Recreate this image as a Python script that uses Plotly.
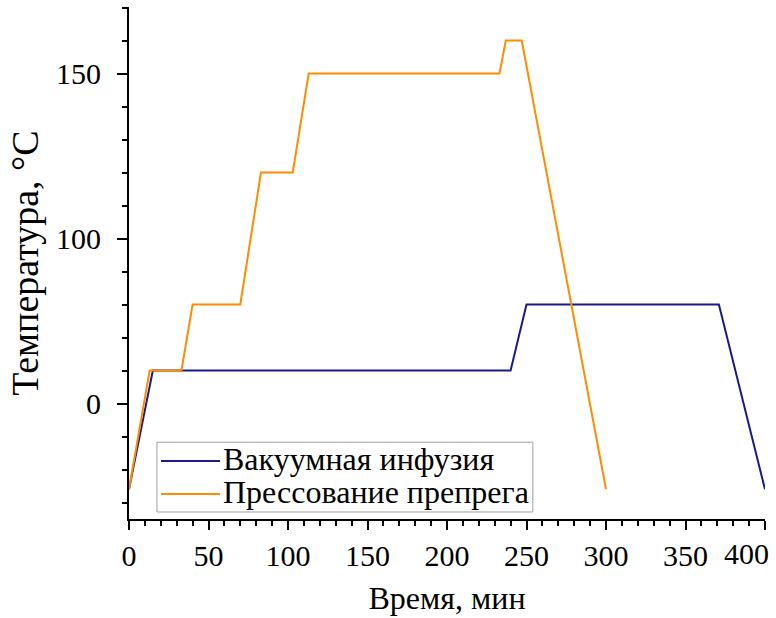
import plotly.graph_objects as go

# Time, min
vac_time = [0, 15, 240, 250, 371, 400]
# Temperature in the chart's own axis units (each minor y tick = 20 units)
vac_temp = [-52, 20, 20, 60, 60, -52]

press_time = [0, 13, 33, 40, 70, 83, 103, 113, 233, 237, 247, 300]
press_temp = [-52, 20, 20, 60, 60, 140, 140, 200, 200, 220, 220, -52]

series_names = ["Вакуумная инфузия", "Прессование препрега"]
series_colors = ["#1a1a8a", "#ff8c00"]

y_tickvals = [0, 100, 200]
y_ticktext = ["0", "100", "150"]
x_tickvals = [0, 50, 100, 150, 200, 250, 300, 350]
x_ticktext = ["0", "50", "100", "150", "200", "250", "300", "350"]

FONT = "Liberation Serif, Times New Roman, serif"
TICK_SIZE = 30
TITLE_SIZE = 32
LEGEND_SIZE = 32

fig = go.Figure()
series = [(vac_time, vac_temp), (press_time, press_temp)]
for (xs, ys), name, color in zip(series, series_names, series_colors):
    fig.add_trace(go.Scatter(x=xs, y=ys, mode="lines", name=name, showlegend=False,
                             line=dict(color=color, width=2)))

# Legend box (drawn in paper coordinates to match the reference's tight spacing)
fig.add_shape(type="rect", xref="paper", yref="paper", x0=0.044, x1=0.635,
              y0=0.0137, y1=0.150, line=dict(color="#a0a0a0", width=1),
              fillcolor="white", layer="above")
legend_rows_y = [0.1133, 0.0488]
for row_y, name, color in zip(legend_rows_y, series_names, series_colors):
    fig.add_shape(type="line", xref="paper", yref="paper", x0=0.0503, x1=0.1431,
                  y0=row_y, y1=row_y, line=dict(color=color, width=2), layer="above")
    fig.add_annotation(x=0.144, y=row_y, xref="paper", yref="paper", text=name,
                       showarrow=False, xanchor="left", yanchor="middle", yshift=2,
                       font=dict(family=FONT, size=LEGEND_SIZE, color="black"))

fig.add_annotation(x=400, y=0, xref="x", yref="paper", text="400", showarrow=False,
                   xanchor="right", yanchor="top", yshift=-16, xshift=6,
                   font=dict(family=FONT, size=TICK_SIZE, color="black"))

fig.update_layout(
    width=776, height=618,
    margin=dict(l=129, r=11, t=7, b=99),
    paper_bgcolor="white", plot_bgcolor="white",
    font=dict(family=FONT, size=TICK_SIZE, color="black"),
    showlegend=False,
    xaxis=dict(range=[0, 400], tickmode="array", tickvals=x_tickvals + [400],
               ticktext=x_ticktext + [""],
               ticks="outside", ticklen=9, tickwidth=2, tickcolor="black",
               showline=True, linecolor="black", linewidth=2,
               showgrid=False, zeroline=False,
               minor=dict(ticks="outside", ticklen=5, tickwidth=2, tickcolor="black",
                          tick0=0, dtick=10, showgrid=False),
               title=dict(text="Время, мин", standoff=16,
                          font=dict(family=FONT, size=TITLE_SIZE))),
    yaxis=dict(range=[-70, 240.3], tickmode="array", tickvals=y_tickvals,
               ticktext=y_ticktext, ticklabelstandoff=10,
               ticks="outside", ticklen=10, tickwidth=2, tickcolor="black",
               showline=True, linecolor="black", linewidth=2,
               showgrid=False, zeroline=False,
               minor=dict(ticks="outside", ticklen=5, tickwidth=2, tickcolor="black",
                          tick0=0, dtick=20, showgrid=False),
               title=dict(text="Температура, °C", standoff=6,
                          font=dict(family=FONT, size=38))),
)

fig.write_html("out.html", config={"displayModeBar": False},
               post_script="document.body.style.margin='0';document.body.style.overflow='hidden';")
